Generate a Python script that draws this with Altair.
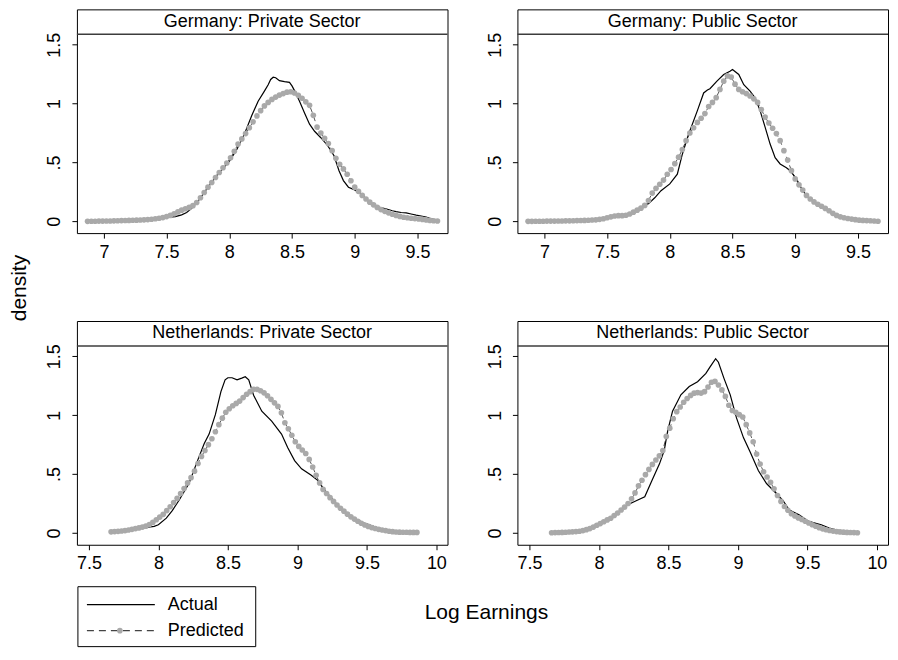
import altair as alt
import numpy as np
import pandas as pd

FONT = "Liberation Sans"

# evaluation grids of the kernel density estimates
top_grid = np.round(np.linspace(6.87, 9.66, 94), 3)
bot_grid = np.round(np.linspace(7.66, 9.86, 89), 3)

# ---- Germany: Private Sector ----
de_priv_pred = [
    0.000, 0.001, 0.001, 0.002, 0.002, 0.003, 0.003, 0.004, 0.005, 0.006,
    0.007, 0.008, 0.009, 0.010, 0.011, 0.013, 0.015, 0.018, 0.022, 0.026,
    0.032, 0.040, 0.050, 0.064, 0.080, 0.095, 0.107, 0.118, 0.133, 0.160,
    0.200, 0.245, 0.290, 0.330, 0.372, 0.415, 0.455, 0.495, 0.540, 0.595,
    0.656, 0.700, 0.745, 0.795, 0.845, 0.895, 0.940, 0.980, 1.010, 1.035,
    1.055, 1.072, 1.085, 1.097, 1.100, 1.090, 1.070, 1.045, 1.015, 0.985,
    0.900, 0.800, 0.750, 0.705, 0.660, 0.600, 0.535, 0.485, 0.445, 0.400,
    0.345, 0.290, 0.255, 0.220, 0.190, 0.163, 0.140, 0.118, 0.100, 0.085,
    0.072, 0.060, 0.050, 0.042, 0.035, 0.030, 0.026, 0.023, 0.020, 0.016,
    0.012, 0.008, 0.005, 0.003]
de_priv_act_x = [6.87, 7.20, 7.40, 7.50, 7.57, 7.62, 7.66, 7.70, 7.75, 7.80,
                 7.90, 8.00, 8.06, 8.12, 8.18, 8.23, 8.28, 8.31, 8.33, 8.35,
                 8.37, 8.40, 8.44, 8.48, 8.50, 8.52, 8.56, 8.60, 8.64, 8.68,
                 8.73, 8.78, 8.81, 8.835, 8.875, 8.91, 8.95, 9.00, 9.045, 9.12,
                 9.20, 9.255, 9.30, 9.33, 9.37, 9.41, 9.45, 9.49, 9.53, 9.57,
                 9.61, 9.66]
de_priv_act_y = [0.000, 0.007, 0.020, 0.033, 0.040, 0.055, 0.075, 0.110, 0.170, 0.245,
                 0.390, 0.510, 0.610, 0.740, 0.900, 1.020, 1.106, 1.160, 1.205, 1.224,
                 1.219, 1.195, 1.186, 1.180, 1.150, 1.110, 1.020, 0.920, 0.825, 0.765,
                 0.710, 0.650, 0.600, 0.557, 0.430, 0.346, 0.290, 0.267, 0.240, 0.163,
                 0.118, 0.105, 0.090, 0.083, 0.075, 0.072, 0.062, 0.052, 0.045, 0.037,
                 0.022, 0.008]

# ---- Germany: Public Sector ----
de_pub_pred = [
    0.000, 0.000, 0.001, 0.001, 0.001, 0.002, 0.002, 0.002, 0.003, 0.003,
    0.004, 0.004, 0.005, 0.006, 0.007, 0.008, 0.009, 0.011, 0.013, 0.017,
    0.022, 0.030, 0.038, 0.045, 0.048, 0.048, 0.052, 0.062, 0.078, 0.095,
    0.112, 0.135, 0.177, 0.240, 0.280, 0.315, 0.350, 0.400, 0.440, 0.490,
    0.545, 0.610, 0.685, 0.750, 0.795, 0.840, 0.875, 0.915, 0.975, 1.010,
    1.050, 1.120, 1.190, 1.235, 1.225, 1.165, 1.120, 1.100, 1.085, 1.064,
    1.040, 1.010, 0.950, 0.885, 0.835, 0.790, 0.745, 0.685, 0.600, 0.520,
    0.430, 0.360, 0.310, 0.265, 0.220, 0.190, 0.165, 0.145, 0.128, 0.110,
    0.090, 0.068, 0.050, 0.038, 0.030, 0.024, 0.019, 0.014, 0.010, 0.008,
    0.006, 0.005, 0.003, 0.001]
de_pub_act_x = [6.87, 7.40, 7.50, 7.56, 7.65, 7.72, 7.80, 7.83, 7.88, 7.93,
                8.00, 8.06, 8.10, 8.15, 8.22, 8.27, 8.30, 8.32, 8.376, 8.43,
                8.48, 8.50, 8.55, 8.59, 8.64, 8.68, 8.72, 8.76, 8.80, 8.84,
                8.88, 8.93, 8.96, 9.01, 9.06, 9.10, 9.17, 9.25, 9.33, 9.43,
                9.51, 9.66]
de_pub_act_y = [0.000, 0.010, 0.030, 0.045, 0.050, 0.080, 0.140, 0.150, 0.200, 0.260,
                0.318, 0.400, 0.570, 0.740, 0.940, 1.090, 1.115, 1.126, 1.190, 1.247,
                1.275, 1.290, 1.247, 1.160, 1.106, 1.050, 0.940, 0.800, 0.656, 0.540,
                0.487, 0.455, 0.430, 0.360, 0.260, 0.205, 0.150, 0.107, 0.050, 0.022,
                0.010, 0.001]

# ---- Netherlands: Private Sector ----
nl_priv_pred = [
    0.010, 0.012, 0.014, 0.017, 0.020, 0.025, 0.031, 0.037, 0.043, 0.050,
    0.058, 0.072, 0.090, 0.112, 0.135, 0.158, 0.190, 0.223, 0.258, 0.295,
    0.335, 0.378, 0.425, 0.470, 0.525, 0.590, 0.650, 0.700, 0.750, 0.800,
    0.860, 0.920, 0.975, 1.025, 1.055, 1.080, 1.100, 1.120, 1.150, 1.178,
    1.200, 1.220, 1.220, 1.208, 1.190, 1.165, 1.135, 1.105, 1.075, 1.020,
    0.936, 0.885, 0.830, 0.775, 0.735, 0.705, 0.675, 0.625, 0.560, 0.490,
    0.425, 0.370, 0.335, 0.300, 0.268, 0.238, 0.210, 0.185, 0.160, 0.137,
    0.118, 0.100, 0.083, 0.068, 0.056, 0.046, 0.038, 0.031, 0.025, 0.020,
    0.015, 0.011, 0.008, 0.007, 0.006, 0.006, 0.005, 0.005, 0.005]
nl_priv_act_x = [7.66, 7.80, 7.90, 7.97, 8.00, 8.057, 8.10, 8.15, 8.22, 8.29,
                 8.33, 8.365, 8.41, 8.45, 8.48, 8.50, 8.53, 8.566, 8.60, 8.625,
                 8.65, 8.685, 8.744, 8.815, 8.886, 8.93, 8.98, 9.03, 9.10, 9.146,
                 9.206, 9.29, 9.38, 9.48, 9.60, 9.72, 9.86]
nl_priv_act_y = [0.010, 0.028, 0.045, 0.056, 0.070, 0.126, 0.190, 0.280, 0.420, 0.640,
                 0.760, 0.840, 1.005, 1.200, 1.300, 1.318, 1.318, 1.300, 1.315, 1.327,
                 1.300, 1.170, 1.034, 0.950, 0.840, 0.726, 0.615, 0.545, 0.490, 0.447,
                 0.350, 0.237, 0.140, 0.084, 0.035, 0.010, 0.005]

# ---- Netherlands: Public Sector ----
nl_pub_pred = [
    0.002, 0.003, 0.004, 0.005, 0.006, 0.008, 0.010, 0.012, 0.015, 0.020,
    0.028, 0.037, 0.050, 0.066, 0.080, 0.095, 0.111, 0.125, 0.148, 0.170,
    0.195, 0.220, 0.250, 0.290, 0.340, 0.400, 0.448, 0.495, 0.540, 0.582,
    0.620, 0.655, 0.700, 0.820, 0.890, 0.970, 1.030, 1.070, 1.110, 1.142,
    1.168, 1.187, 1.192, 1.188, 1.200, 1.240, 1.280, 1.288, 1.257, 1.215,
    1.160, 1.085, 1.040, 1.025, 1.005, 0.985, 0.920, 0.850, 0.775, 0.670,
    0.585, 0.520, 0.475, 0.430, 0.375, 0.318, 0.268, 0.225, 0.193, 0.163,
    0.145, 0.128, 0.115, 0.100, 0.085, 0.070, 0.057, 0.045, 0.035, 0.027,
    0.021, 0.016, 0.012, 0.009, 0.007, 0.005, 0.004, 0.003, 0.002]
nl_pub_act_x = [7.66, 7.90, 8.00, 8.10, 8.20, 8.28, 8.33, 8.377, 8.436, 8.47,
                8.495, 8.53, 8.59, 8.65, 8.71, 8.77, 8.80, 8.84, 8.86, 8.90,
                8.945, 8.99, 9.04, 9.09, 9.147, 9.206, 9.277, 9.325, 9.37, 9.44,
                9.51, 9.60, 9.657, 9.75, 9.86]
nl_pub_act_y = [0.002, 0.025, 0.070, 0.140, 0.235, 0.280, 0.307, 0.433, 0.587, 0.700,
                0.866, 1.034, 1.173, 1.243, 1.285, 1.355, 1.410, 1.480, 1.450, 1.313,
                1.173, 0.977, 0.810, 0.684, 0.530, 0.420, 0.335, 0.274, 0.195, 0.154,
                0.098, 0.070, 0.042, 0.014, 0.002]

top_ticks = [7, 7.5, 8, 8.5, 9, 9.5]
bot_ticks = [7.5, 8, 8.5, 9, 9.5, 10]
top_domain = [6.785, 9.74]
bot_domain = [7.414, 10.08]
y_ticks = [0, 0.5, 1, 1.5]

W, H = 371, 224
ROW_GAP, COL_GAP = 88, 70
DOT_GRAY = "#a9a9a9"
one = pd.DataFrame({"k": [0]})


def panel(title, ax, ay, px, py, xdom, xticks, extra=()):
    xs = alt.Scale(domain=xdom, nice=False, zero=False)
    ys = alt.Scale(domain=[-0.1, 1.8], nice=False, zero=False)
    xaxis = alt.Axis(values=xticks, format="~g", title=None, grid=False, domain=False,
                     tickSize=5, tickColor="black", tickWidth=1,
                     labelFontSize=18, labelFont=FONT, labelColor="black",
                     labelPadding=5, labelFlush=False, labelOverlap=False)
    yaxis = alt.Axis(values=y_ticks, format="~g",
                     labelExpr="datum.value == 0.5 ? '.5' : datum.label",
                     title=None, grid=False, domain=False,
                     tickSize=5, tickColor="black", tickWidth=1,
                     labelAngle=270, labelAlign="center", labelBaseline="bottom",
                     labelPadding=8, labelFontSize=18, labelFont=FONT,
                     labelColor="black", labelFlush=False, labelOverlap=False)
    act = pd.DataFrame({"x": ax, "y": ay})
    pred = pd.DataFrame({"x": px, "y": py})
    enc = dict(x=alt.X("x:Q", scale=xs, axis=xaxis),
               y=alt.Y("y:Q", scale=ys, axis=yaxis))
    l_pred = alt.Chart(pred).mark_line(color="#555555", strokeWidth=1,
                                       strokeDash=[5, 4]).encode(**enc)
    l_act = alt.Chart(act).mark_line(color="black", strokeWidth=1.2).encode(**enc)
    p_pred = alt.Chart(pred).mark_circle(color=DOT_GRAY, opacity=1, size=32).encode(**enc)
    strip = alt.Chart(one).mark_rule(color="#3c3c3c", strokeWidth=1.5).encode(
        x=alt.value(0), x2=alt.value(W), y=alt.value(25))
    txt = alt.Chart(one).mark_text(font=FONT, fontSize=18, color="black",
                                   baseline="middle", align="center").encode(
        x=alt.value(W / 2), y=alt.value(12.5), text=alt.value(title))
    return alt.layer(l_pred, l_act, p_pred, strip, txt, *extra).properties(width=W, height=H)


density_lbl = alt.Chart(one).mark_text(font=FONT, fontSize=21, color="black", angle=270,
                                       baseline="middle", align="center").encode(
    x=alt.value(-57), y=alt.value(-33), text=alt.value("density"))

p1 = panel("Germany: Private Sector", de_priv_act_x, de_priv_act_y,
           top_grid, de_priv_pred, top_domain, top_ticks)
p2 = panel("Germany: Public Sector", de_pub_act_x, de_pub_act_y,
           top_grid, de_pub_pred, top_domain, top_ticks)
p3 = panel("Netherlands: Private Sector", nl_priv_act_x, nl_priv_act_y,
           bot_grid, nl_priv_pred, bot_domain, bot_ticks, extra=(density_lbl,))
p4 = panel("Netherlands: Public Sector", nl_pub_act_x, nl_pub_act_y,
           bot_grid, nl_pub_pred, bot_domain, bot_ticks)

# legend row (drawn upward from a short cell under the left column)
LT = 42 - ROW_GAP  # legend box top relative to the cell
LH = 60
box = alt.Chart(one).mark_rect(fill="white", stroke="black", strokeWidth=1).encode(
    x=alt.value(1), x2=alt.value(179), y=alt.value(LT), y2=alt.value(LT + LH))
r1 = alt.Chart(one).mark_rule(color="black", strokeWidth=1.2).encode(
    x=alt.value(10), x2=alt.value(78), y=alt.value(LT + 18))
r2 = alt.Chart(one).mark_rule(color="#444444", strokeWidth=1.2, strokeDash=[7, 5]).encode(
    x=alt.value(10), x2=alt.value(78), y=alt.value(LT + 44))
dot = alt.Chart(one).mark_circle(color=DOT_GRAY, size=32, opacity=1).encode(
    x=alt.value(43), y=alt.value(LT + 44))
t1 = alt.Chart(one).mark_text(font=FONT, fontSize=18, align="left", baseline="middle",
                              color="black").encode(
    x=alt.value(91), y=alt.value(LT + 18), text=alt.value("Actual"))
t2 = alt.Chart(one).mark_text(font=FONT, fontSize=18, align="left", baseline="middle",
                              color="black").encode(
    x=alt.value(91), y=alt.value(LT + 44), text=alt.value("Predicted"))
t3 = alt.Chart(one).mark_text(font=FONT, fontSize=21, align="center", baseline="middle",
                              color="black").encode(
    x=alt.value(410), y=alt.value(LT + 26), text=alt.value("Log Earnings"))
bottom = alt.layer(box, r1, r2, dot, t1, t2, t3).properties(
    width=W, height=LT + LH, view=alt.ViewBackground(stroke="transparent"))

chart = alt.concat(p1, p2, p3, p4, bottom, columns=2,
                   spacing={"row": ROW_GAP, "column": COL_GAP}, bounds="flush").properties(
    padding={"left": 0, "top": 0, "right": 0, "bottom": 0},
    background="white",
).configure_view(stroke="black", strokeWidth=1)

chart.save("out.html", embed_options={"renderer": "svg", "actions": False})
